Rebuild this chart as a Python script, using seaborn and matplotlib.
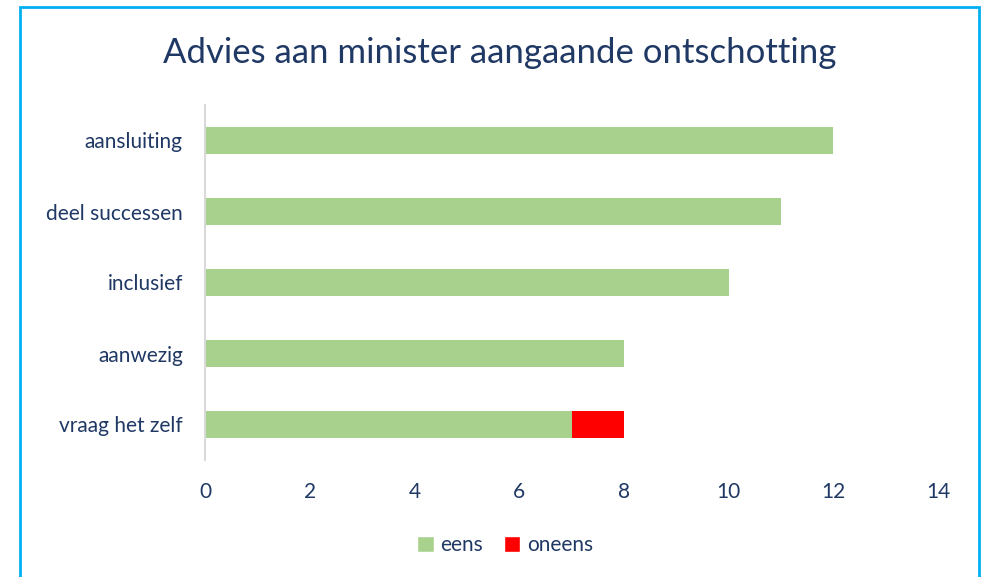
import matplotlib
matplotlib.use("Agg")
import matplotlib.pyplot as plt
from matplotlib.patches import Patch, Rectangle
import seaborn as sns
import pandas as pd

categories = ["aansluiting", "deel successen", "inclusief", "aanwezig", "vraag het zelf"]
eens = [12, 11, 10, 8, 7]
oneens = [0, 0, 0, 0, 1]
x_ticks = [0, 2, 4, 6, 8, 10, 12, 14]

GREEN = "#A9D18E"
RED = "#FF0000"
NAVY = "#1F3864"
BORDER = "#00B0F0"

sns.set_theme(style="white")
plt.rcParams["font.family"] = ["Lato", "DejaVu Sans"]

df = pd.DataFrame({"categorie": categories, "eens": eens, "oneens": oneens})
df["totaal"] = df["eens"] + df["oneens"]

fig = plt.figure(figsize=(9.82, 5.77), dpi=100)
ax = fig.add_axes([205 / 982, 1 - 460 / 577, 733 / 982, 355 / 577])

# stacked: total in red first, then green on top
sns.barplot(data=df, x="totaal", y="categorie", color=RED, width=0.37,
            saturation=1, linewidth=0, ax=ax, orient="h")
sns.barplot(data=df, x="eens", y="categorie", color=GREEN, width=0.37,
            saturation=1, linewidth=0, ax=ax, orient="h")

ax.set_xlim(0, 14)
ax.set_ylim(4.5, -0.5)
ax.set_xticks(x_ticks)
ax.set_xticklabels([str(t) for t in x_ticks])
ax.set_xlabel("")
ax.set_ylabel("")
ax.tick_params(axis="both", length=0, labelsize=15, colors=NAVY)
ax.tick_params(axis="x", pad=16)
ax.tick_params(axis="y", pad=16)
for side in ["top", "right", "bottom"]:
    ax.spines[side].set_visible(False)
ax.spines["left"].set_color("#D9D9D9")
ax.spines["left"].set_linewidth(1.5)

fig.text(500 / 982, 1 - 53 / 577, "Advies aan minister aangaande ontschotting",
         ha="center", va="center", fontsize=25, color=NAVY)

handles = [Patch(facecolor=GREEN, label="eens"), Patch(facecolor=RED, label="oneens")]
fig.legend(handles=handles, loc="center", bbox_to_anchor=(505 / 982, 1 - 545 / 577),
           ncol=2, frameon=False, fontsize=15, labelcolor=NAVY,
           handlelength=0.8, handleheight=0.8, handletextpad=0.3, columnspacing=1.0)

fig.patches.append(Rectangle((20 / 982, -0.01), 959 / 982, 1 - 7 / 577 + 0.01,
                             transform=fig.transFigure, fill=False,
                             edgecolor=BORDER, linewidth=2))

fig.savefig("out.png", dpi=100)
